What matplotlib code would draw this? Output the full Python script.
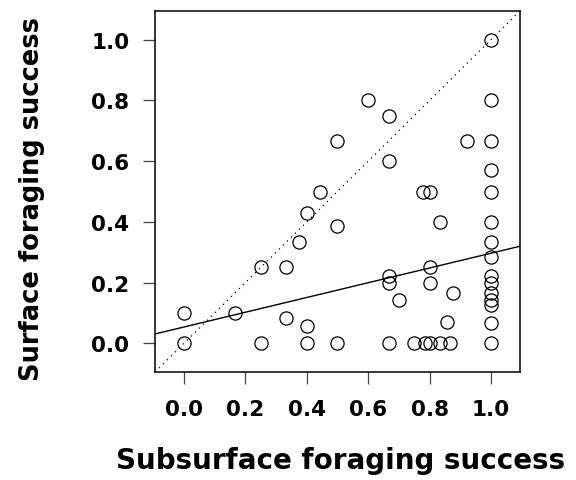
import matplotlib
matplotlib.use("Agg")
import matplotlib.pyplot as plt

plt.rcParams['font.family'] = ['DejaVu Sans']

# subsurface (x) vs surface (y) foraging success, one point per bird
subsurface = [0, 0, 0.167, 0.25, 0.25, 0.333, 0.333, 0.375, 0.4, 0.4, 0.4,
              0.444, 0.5, 0.5, 0.5, 0.6, 0.667, 0.667, 0.667, 0.667, 0.667,
              0.7, 0.75, 0.778, 0.8, 0.8, 0.8, 0.786, 0.8, 0.833, 0.833,
              0.857, 0.867, 0.875, 0.923,
              1, 1, 1, 1, 1, 1, 1, 1, 1, 1, 1, 1, 1, 1, 1]
surface = [0.1, 0, 0.1, 0.25, 0, 0.25, 0.083, 0.333, 0.429, 0.056, 0,
           0.5, 0.667, 0.385, 0, 0.8, 0.75, 0.6, 0.222, 0.2, 0,
           0.143, 0, 0.5, 0.5, 0.25, 0.2, 0, 0, 0.4, 0,
           0.071, 0, 0.167, 0.667,
           1.0, 0.8, 0.667, 0.571, 0.5, 0.4, 0.333, 0.286, 0.222, 0.2,
           0.167, 0.143, 0.125, 0.067, 0]

# fitted regression line
fit_intercept = 0.054
fit_slope = 0.243

ticks = [0.0, 0.2, 0.4, 0.6, 0.8, 1.0]
tick_labels = ["0.0", "0.2", "0.4", "0.6", "0.8", "1.0"]

fig = plt.figure(figsize=(5.76, 4.81), dpi=100)
ax = fig.add_axes([155/576, 1 - 373/481, 365/576, 361/481])

ax.plot(subsurface, surface, 'o', ms=9.5, mfc='none', mec='black', mew=0.9)
ax.axline((0, 0), slope=1, color='black', lw=0.9, ls=(0, (1, 3.5)))
ax.axline((0, fit_intercept), slope=fit_slope, color='black', lw=1.0)

ax.set_xlim(-0.094, 1.094)
ax.set_ylim(-0.094, 1.094)
ax.set_xticks(ticks, tick_labels)
ax.set_yticks(ticks, tick_labels)
ax.tick_params(length=8.5, width=0.9, color='#444444', labelsize=15.5)
ax.tick_params(axis='x', pad=11)
ax.tick_params(axis='y', pad=10)
for lab in ax.get_xticklabels() + ax.get_yticklabels():
    lab.set_fontweight('bold')
for sp in ax.spines.values():
    sp.set_linewidth(1.1)

ax.set_xlabel("Subsurface foraging success", fontsize=20, fontweight='bold')
ax.set_ylabel("Surface foraging success", fontsize=18.5, fontweight='bold')
ax.xaxis.set_label_coords(0.508, -0.205)
ax.yaxis.set_label_coords(-0.30, 0.482)

fig.savefig("out.png", dpi=100)
